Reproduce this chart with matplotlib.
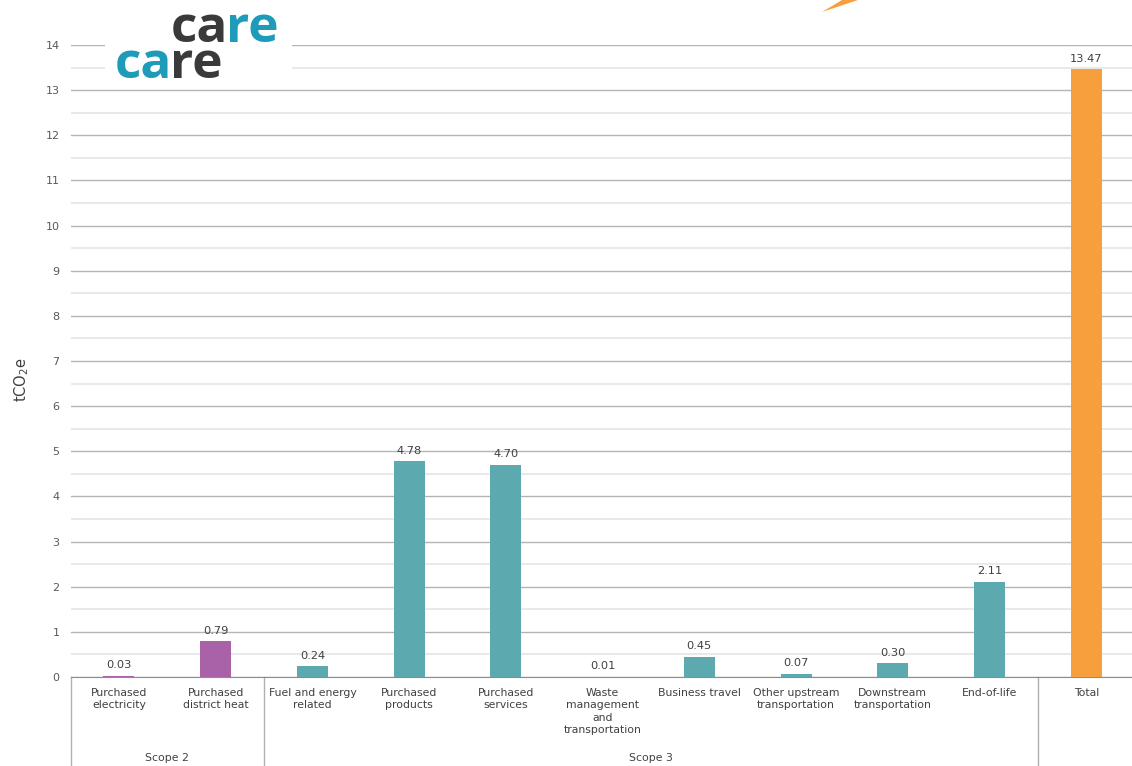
import matplotlib.pyplot as plt
from matplotlib.patches import Rectangle, Polygon
from matplotlib.ticker import MultipleLocator
import matplotlib.transforms as mtransforms

# data
categories = ['Purchased\nelectricity', 'Purchased\ndistrict heat', 'Fuel and energy\nrelated',
              'Purchased\nproducts', 'Purchased\nservices', 'Waste\nmanagement\nand\ntransportation',
              'Business travel', 'Other upstream\ntransportation', 'Downstream\ntransportation',
              'End-of-life', 'Total']
values = [0.03, 0.79, 0.24, 4.78, 4.70, 0.01, 0.45, 0.07, 0.30, 2.11, 13.47]
groups = ['Scope 2', 'Scope 2', 'Scope 3', 'Scope 3', 'Scope 3', 'Scope 3', 'Scope 3',
          'Scope 3', 'Scope 3', 'Scope 3', 'Total']
group_labels = ['Scope 2', 'Scope 3']

colors = {'Scope 2': '#a962a8', 'Scope 3': '#5ca9af', 'Total': '#f79f3d'}
txt = '#404040'

plt.rcParams['font.family'] = 'DejaVu Sans'

W, H = 1132, 766
fig = plt.figure(figsize=(W / 100, H / 100), dpi=100)
ax = fig.add_axes([70.6 / W, 89 / H, 1064 / W, 632 / H])

x = list(range(len(values)))
ax.bar(x, values, width=0.32, color=[colors[g] for g in groups], zorder=3)

for xi, v in zip(x, values):
    ax.text(xi, v + 0.12, f'{v:.2f}', ha='center', va='bottom', fontsize=8.2, color=txt, zorder=4)

ax.set_xlim(-0.5, len(values) - 0.5)
ax.set_ylim(0, 14)
ax.yaxis.set_major_locator(MultipleLocator(1))
ax.yaxis.set_minor_locator(MultipleLocator(0.5))
ax.grid(axis='y', which='major', color='#b4b4b4', lw=1, zorder=0)
ax.grid(axis='y', which='minor', color='#e9e9e9', lw=1.5, zorder=0)
ax.tick_params(axis='y', which='both', length=0, labelsize=8, labelcolor='#595959', pad=8)
ax.set_xticks([])
for s in ['top', 'right', 'left']:
    ax.spines[s].set_visible(False)
ax.spines['bottom'].set_color('#8c8c8c')

# category labels under the axis
for xi, c in zip(x, categories):
    ax.text(xi, -0.24, c, ha='center', va='top', fontsize=7.8, color='#404040', linespacing=1.3)

# group separators and labels
trans = mtransforms.blended_transform_factory(ax.transData, ax.transAxes)
ybot = -89 / 632
for bx in [-0.5, 1.5, 9.5]:
    ax.plot([bx, bx], [0, ybot], transform=trans, color='#b0b0b0', lw=1, clip_on=False)
ax.text(0.5, -81 / 632, group_labels[0], transform=trans, ha='center', va='center',
        fontsize=7.8, color='#404040')
ax.text(5.5, -81 / 632, group_labels[1], transform=trans, ha='center', va='center',
        fontsize=7.8, color='#404040')

fig.text(22 / W, 1 - 380 / H, 'tCO$_2$e', rotation=90, ha='center', va='center',
         fontsize=10.5, color='#404040')

# logo
fig.patches.append(Rectangle((105 / W, 1 - 85 / H), 187 / W, 85 / H, transform=fig.transFigure,
                             facecolor='white', edgecolor='none', zorder=5))
dark, blue = '#3a3a3a', '#1d9bb9'
logo = dict(fontsize=37, fontweight='bold', family='Open Sans', va='baseline', zorder=6)
fig.text(228 / W, 1 - 42 / H, 'ca', ha='right', color=dark, **logo)
fig.text(226 / W, 1 - 42 / H, 're', ha='left', color=blue, **logo)
fig.text(172 / W, 1 - 78 / H, 'ca', ha='right', color=blue, **logo)
fig.text(170 / W, 1 - 78 / H, 're', ha='left', color=dark, **logo)

# orange arrow fragment at top
fig.patches.append(Polygon([(822 / W, 1 - 12 / H), (842 / W, 1.0), (858 / W, 1.0)],
                           closed=True, transform=fig.transFigure, facecolor='#f79f3d',
                           edgecolor='none', zorder=5))

fig.savefig('out.png', dpi=100)
